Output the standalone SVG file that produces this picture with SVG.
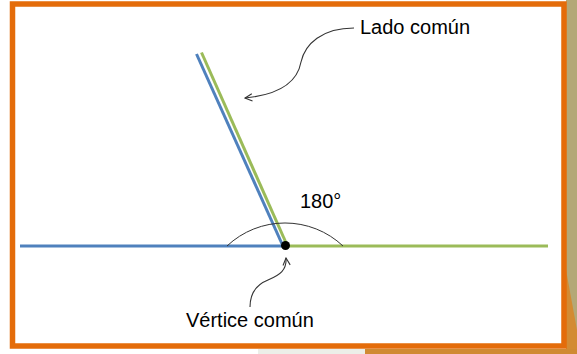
<svg xmlns="http://www.w3.org/2000/svg" width="577" height="354" viewBox="0 0 577 354">
  <style>
    .lbl { font-family: "Liberation Sans", Arial, sans-serif; font-size: 20px; fill: #000; }
    .conn { fill: none; stroke: #333; stroke-width: 1.1; }
    .blue { stroke: #4F81BD; stroke-width: 3; fill: none; }
    .green { stroke: #9BBB59; stroke-width: 3; fill: none; }
  </style>
  <defs>
    <marker id="open" viewBox="0 0 10 10" refX="9" refY="5" markerWidth="9" markerHeight="9" markerUnits="userSpaceOnUse" orient="auto">
      <path d="M1,1 L9,5 L1,9" fill="none" stroke="#333" stroke-width="1.2"/>
    </marker>
  </defs>
  <!-- background outside the frame -->
  <rect x="0" y="0" width="577" height="354" fill="#ffffff"/>
  <rect x="566" y="0" width="11" height="354" fill="#B4A877"/>
  <polygon points="566,270 577,330 577,354 566,354" fill="#D38B33"/>
  <rect x="258" y="349" width="110" height="5" fill="#ECEEE8"/>
  <rect x="365" y="349" width="212" height="5" fill="#D08A33"/>
  <!-- frame -->
  <rect x="12.5" y="4" width="551.5" height="342" fill="#ffffff" stroke="#E46C0A" stroke-width="5.5"/>

  <g id="lines">
    <line class="blue" x1="20" y1="246" x2="285" y2="246"/>
    <line class="green" x1="285" y1="246" x2="548" y2="246"/>
    <line class="blue" x1="282.5" y1="245" x2="196.5" y2="54"/>
    <line class="green" x1="287" y1="245" x2="201.5" y2="52.5"/>
  </g>

  <g id="angle">
    <path d="M227,246 A84.6,84.6 0 0 1 343,246" fill="none" stroke="#333" stroke-width="1"/>
    <text class="lbl" x="300" y="208">180°</text>
  </g>

  <g id="vertex">
    <circle cx="285.5" cy="245.5" r="4.5" fill="#000"/>
  </g>

  <g id="connectors">
    <path class="conn" d="M354,28 C322,28 305,44 301,62 C297,84 276,95 245,98" marker-end="url(#open)"/>
    <path class="conn" d="M250,307 C250,292 258,284 268,280 C280,275 287,270 286,258" marker-end="url(#open)"/>
  </g>

  <g id="lado">
    <text class="lbl" x="360" y="34">Lado común</text>
  </g>
  <g id="verticeLabel">
    <text class="lbl" x="186" y="327">Vértice común</text>
  </g>
</svg>
